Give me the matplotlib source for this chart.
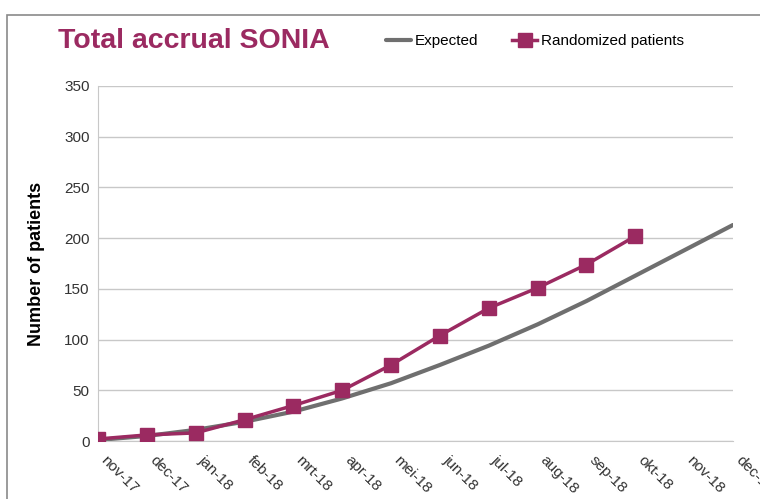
import numpy as np
import matplotlib.pyplot as plt
from matplotlib.patches import Rectangle

months = ["nov-17", "dec-17", "jan-18", "feb-18", "mrt-18", "apr-18", "mei-18",
          "jun-18", "jul-18", "aug-18", "sep-18", "okt-18", "nov-18", "dec-18"]
expected = [1, 5, 11, 19, 29, 42, 57, 75, 94, 115, 138, 163, 188, 213]
randomized = [2, 6, 8, 21, 35, 50, 75, 104, 131, 151, 174, 202]

plt.rcParams['font.family'] = ['Liberation Sans', 'DejaVu Sans']
purple = '#9b2a61'

fig = plt.figure(figsize=(7.6, 4.99), dpi=100)
ax = fig.add_axes([0.129, 0.1162, 0.8355, 0.7115])

x = np.arange(len(months))
ax.plot(x, expected, color='#6f6f6f', lw=3, solid_capstyle='round', label='Expected', zorder=2)
ax.plot(x[:len(randomized)], randomized, color=purple, lw=2.5, marker='s', markersize=10,
        label='Randomized patients', zorder=3)

ax.set_xlim(0, 13)
ax.set_ylim(0, 350)
ax.set_yticks(np.arange(0, 351, 50))
ax.set_xticks(x)
ax.set_xticklabels(months, rotation=-45, ha='left', va='bottom', rotation_mode='anchor', fontsize=11)
ax.tick_params(axis='y', labelsize=11, length=0, pad=6, labelcolor='#333333')
ax.tick_params(axis='x', length=0, pad=16, labelcolor='#333333')
ax.grid(axis='y', color='#c8c8c8', lw=1)
ax.set_axisbelow(True)
for s in ['top', 'right']:
    ax.spines[s].set_visible(False)
ax.spines['left'].set_color('#c8c8c8')
ax.spines['bottom'].set_color('#c8c8c8')
ax.set_ylabel("Number of patients", fontsize=13, fontweight='bold', labelpad=14)

fig.text(0.076, 0.918, "Total accrual SONIA", color=purple, fontsize=20.5, fontweight='bold', va='center')
fig.legend(loc='center left', bbox_to_anchor=(0.49, 0.918), ncol=2, frameon=False,
           fontsize=11, handlelength=1.6, handletextpad=0.3, columnspacing=2.2)

fig.patches.append(Rectangle((7 / 760, -0.1), 1.2, (499 - 15) / 499 + 0.1, transform=fig.transFigure,
                             fill=False, edgecolor='#8a8a8a', lw=1.2))

fig.savefig("out.png")
